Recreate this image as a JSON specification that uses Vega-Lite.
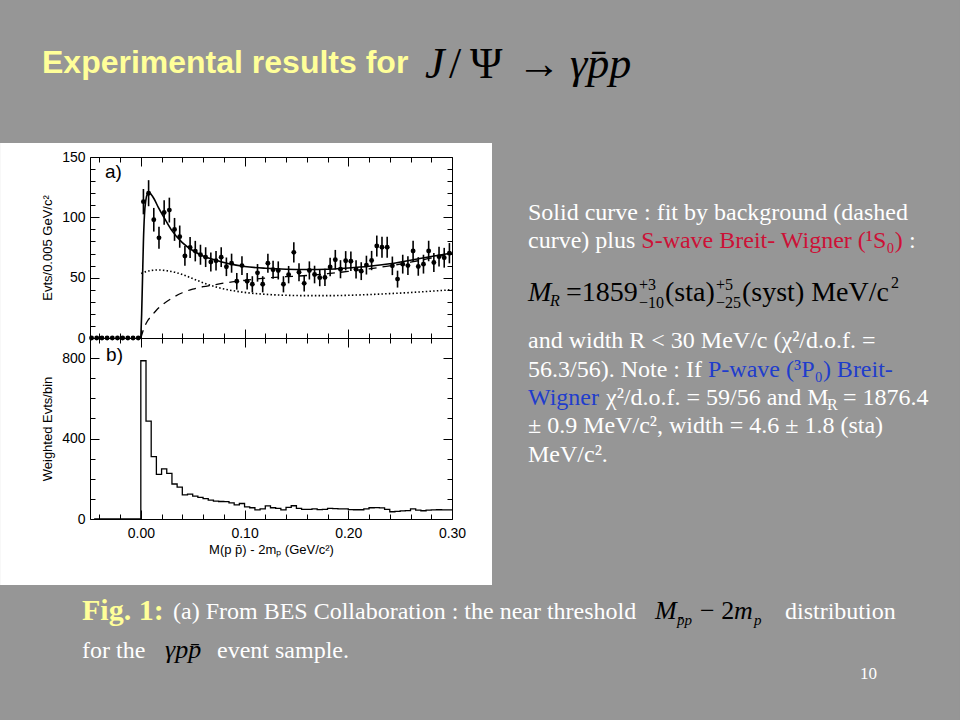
{
  "$schema": "https://vega.github.io/schema/vega-lite/v6.json",
  "background": "#969696",
  "padding": 0,
  "bounds": "flush",
  "spacing": 0,
  "config": {
    "view": {"stroke": null},
    "font": "Liberation Sans",
    "text": {"align": "left", "baseline": "alphabetic", "font": "Liberation Serif"},
    "axis": {"grid": false, "domainColor": "black", "tickColor": "black", "labelColor": "black", "titleColor": "black", "labelFont": "Liberation Sans", "titleFont": "Liberation Sans", "labelFontSize": 14, "titleFontSize": 13, "titleFontWeight": "normal", "domainWidth": 1, "tickWidth": 1}
  },
  "datasets": {
    "points": [
      {"m": -0.0475, "n": 0, "e": 0}, {"m": -0.0425, "n": 0, "e": 0}, {"m": -0.0375, "n": 0, "e": 0}, {"m": -0.0325, "n": 0, "e": 0}, {"m": -0.0275, "n": 0, "e": 0},
      {"m": -0.0225, "n": 0, "e": 0}, {"m": -0.0175, "n": 0, "e": 0}, {"m": -0.0125, "n": 0, "e": 0}, {"m": -0.0075, "n": 0, "e": 0}, {"m": -0.0025, "n": 0, "e": 0},
      {"m": 0.0025, "n": 113, "e": 10.5}, {"m": 0.0075, "n": 120, "e": 10.8}, {"m": 0.0125, "n": 98, "e": 9.8}, {"m": 0.0175, "n": 83, "e": 9.1}, {"m": 0.0225, "n": 104, "e": 10.2},
      {"m": 0.0275, "n": 106, "e": 10.3}, {"m": 0.0325, "n": 90, "e": 9.5}, {"m": 0.0375, "n": 84, "e": 9.2}, {"m": 0.0425, "n": 68, "e": 8.2}, {"m": 0.0475, "n": 75, "e": 8.7},
      {"m": 0.0525, "n": 72, "e": 8.5}, {"m": 0.0575, "n": 69, "e": 8.3}, {"m": 0.0625, "n": 67, "e": 8.2}, {"m": 0.0675, "n": 63, "e": 7.9}, {"m": 0.0725, "n": 64, "e": 8.0},
      {"m": 0.0775, "n": 67, "e": 8.2}, {"m": 0.0825, "n": 59, "e": 7.7}, {"m": 0.0875, "n": 62, "e": 7.9}, {"m": 0.0925, "n": 47, "e": 6.9}, {"m": 0.0975, "n": 60, "e": 7.7},
      {"m": 0.1025, "n": 47, "e": 6.9}, {"m": 0.1075, "n": 44.5, "e": 6.7}, {"m": 0.1125, "n": 54, "e": 7.3}, {"m": 0.1175, "n": 44.5, "e": 6.7}, {"m": 0.1225, "n": 62, "e": 7.9},
      {"m": 0.1275, "n": 56.5, "e": 7.5}, {"m": 0.1325, "n": 56, "e": 7.5}, {"m": 0.1375, "n": 44.5, "e": 6.7}, {"m": 0.1425, "n": 52.5, "e": 7.2}, {"m": 0.1475, "n": 71, "e": 8.4},
      {"m": 0.1525, "n": 54.5, "e": 7.4}, {"m": 0.1575, "n": 45.3, "e": 6.7}, {"m": 0.1625, "n": 56, "e": 7.5}, {"m": 0.1675, "n": 52.6, "e": 7.3}, {"m": 0.1725, "n": 50, "e": 7.1},
      {"m": 0.1775, "n": 50.2, "e": 7.1}, {"m": 0.1825, "n": 58.8, "e": 7.7}, {"m": 0.1875, "n": 64.9, "e": 8.1}, {"m": 0.1925, "n": 57, "e": 7.5}, {"m": 0.1975, "n": 64, "e": 8.0},
      {"m": 0.2025, "n": 63.6, "e": 8.0}, {"m": 0.2075, "n": 56.9, "e": 7.5}, {"m": 0.2125, "n": 55.4, "e": 7.4}, {"m": 0.2175, "n": 60.4, "e": 7.8}, {"m": 0.2225, "n": 64.2, "e": 8.0},
      {"m": 0.2275, "n": 76.2, "e": 8.7}, {"m": 0.2325, "n": 75.2, "e": 8.7}, {"m": 0.2375, "n": 75.2, "e": 8.7}, {"m": 0.2425, "n": 59.8, "e": 7.7}, {"m": 0.2475, "n": 48.8, "e": 7.0},
      {"m": 0.2525, "n": 61.2, "e": 7.8}, {"m": 0.2575, "n": 60, "e": 7.7}, {"m": 0.2625, "n": 72.1, "e": 8.5}, {"m": 0.2675, "n": 59.3, "e": 7.7}, {"m": 0.2725, "n": 61.2, "e": 7.8},
      {"m": 0.2775, "n": 72.1, "e": 8.5}, {"m": 0.2825, "n": 62.6, "e": 7.9}, {"m": 0.2875, "n": 67.4, "e": 8.2}, {"m": 0.2925, "n": 66.5, "e": 8.2}, {"m": 0.2975, "n": 70.3, "e": 8.4}
    ],
    "fit": [
      {"m": 0, "v": 0}, {"m": 0.0008, "v": 20}, {"m": 0.0016, "v": 48}, {"m": 0.0025, "v": 80}, {"m": 0.0035, "v": 102}, {"m": 0.0048, "v": 114},
      {"m": 0.0065, "v": 119.5}, {"m": 0.008, "v": 120.5}, {"m": 0.01, "v": 119}, {"m": 0.013, "v": 115}, {"m": 0.017, "v": 108}, {"m": 0.023, "v": 99},
      {"m": 0.03, "v": 89}, {"m": 0.04, "v": 79}, {"m": 0.05, "v": 72.5}, {"m": 0.06, "v": 68}, {"m": 0.07, "v": 65}, {"m": 0.085, "v": 61.5},
      {"m": 0.1, "v": 59.3}, {"m": 0.12, "v": 57.8}, {"m": 0.14, "v": 57}, {"m": 0.16, "v": 56.8}, {"m": 0.18, "v": 57}, {"m": 0.2, "v": 58},
      {"m": 0.22, "v": 59.4}, {"m": 0.24, "v": 61.5}, {"m": 0.26, "v": 64.5}, {"m": 0.28, "v": 67.5}, {"m": 0.3, "v": 70.5}
    ],
    "background": [
      {"m": 0, "v": 0}, {"m": 0.003, "v": 8}, {"m": 0.006, "v": 13.5}, {"m": 0.01, "v": 18}, {"m": 0.015, "v": 23}, {"m": 0.02, "v": 27},
      {"m": 0.03, "v": 33}, {"m": 0.04, "v": 37.5}, {"m": 0.05, "v": 40.5}, {"m": 0.06, "v": 42.5}, {"m": 0.07, "v": 44}, {"m": 0.08, "v": 45.5},
      {"m": 0.09, "v": 46.7}, {"m": 0.1, "v": 47.8}, {"m": 0.12, "v": 49.6}, {"m": 0.14, "v": 50.8}, {"m": 0.16, "v": 51.8}, {"m": 0.18, "v": 53.3},
      {"m": 0.2, "v": 55.2}, {"m": 0.22, "v": 57.3}, {"m": 0.24, "v": 59.8}, {"m": 0.26, "v": 62.8}, {"m": 0.28, "v": 66.3}, {"m": 0.3, "v": 70}
    ],
    "dotted": [
      {"m": 0.0003, "v": 53.5}, {"m": 0.005, "v": 55}, {"m": 0.01, "v": 56}, {"m": 0.017, "v": 56.4}, {"m": 0.025, "v": 55.8}, {"m": 0.035, "v": 54},
      {"m": 0.045, "v": 51}, {"m": 0.055, "v": 47.5}, {"m": 0.065, "v": 44.3}, {"m": 0.075, "v": 41.7}, {"m": 0.085, "v": 39.8}, {"m": 0.1, "v": 37.8},
      {"m": 0.12, "v": 36.2}, {"m": 0.14, "v": 35.4}, {"m": 0.16, "v": 35.1}, {"m": 0.18, "v": 35.1}, {"m": 0.2, "v": 35.4}, {"m": 0.22, "v": 36},
      {"m": 0.24, "v": 36.8}, {"m": 0.26, "v": 37.7}, {"m": 0.28, "v": 38.8}, {"m": 0.3, "v": 40}
    ],
    "hist": [
      {"m": -0.045, "w": 0}, {"m": -0.04, "w": 0}, {"m": -0.035, "w": 0}, {"m": -0.03, "w": 0}, {"m": -0.025, "w": 0}, {"m": -0.02, "w": 0}, {"m": -0.015, "w": 0}, {"m": -0.01, "w": 0}, {"m": -0.005, "w": 0},
      {"m": 0.0, "w": 787}, {"m": 0.005, "w": 487}, {"m": 0.01, "w": 310}, {"m": 0.015, "w": 222}, {"m": 0.02, "w": 249}, {"m": 0.025, "w": 227},
      {"m": 0.03, "w": 174}, {"m": 0.035, "w": 158}, {"m": 0.04, "w": 120}, {"m": 0.045, "w": 124}, {"m": 0.05, "w": 114}, {"m": 0.055, "w": 108},
      {"m": 0.06, "w": 101}, {"m": 0.065, "w": 94}, {"m": 0.07, "w": 89}, {"m": 0.075, "w": 87}, {"m": 0.08, "w": 86}, {"m": 0.085, "w": 80},
      {"m": 0.09, "w": 70}, {"m": 0.095, "w": 77}, {"m": 0.1, "w": 60}, {"m": 0.105, "w": 56}, {"m": 0.11, "w": 45}, {"m": 0.115, "w": 50},
      {"m": 0.12, "w": 65}, {"m": 0.125, "w": 56}, {"m": 0.13, "w": 53}, {"m": 0.135, "w": 45}, {"m": 0.14, "w": 58}, {"m": 0.145, "w": 66},
      {"m": 0.15, "w": 53}, {"m": 0.155, "w": 48}, {"m": 0.16, "w": 48}, {"m": 0.165, "w": 50}, {"m": 0.17, "w": 47}, {"m": 0.175, "w": 48},
      {"m": 0.18, "w": 53}, {"m": 0.185, "w": 52}, {"m": 0.19, "w": 50}, {"m": 0.195, "w": 50}, {"m": 0.2, "w": 47}, {"m": 0.205, "w": 46},
      {"m": 0.21, "w": 46}, {"m": 0.215, "w": 50}, {"m": 0.22, "w": 56}, {"m": 0.225, "w": 57}, {"m": 0.23, "w": 55}, {"m": 0.235, "w": 48},
      {"m": 0.24, "w": 36}, {"m": 0.245, "w": 38}, {"m": 0.25, "w": 40}, {"m": 0.255, "w": 42}, {"m": 0.26, "w": 50}, {"m": 0.265, "w": 44},
      {"m": 0.27, "w": 41}, {"m": 0.275, "w": 44}, {"m": 0.28, "w": 45}, {"m": 0.285, "w": 46}, {"m": 0.29, "w": 45}, {"m": 0.295, "w": 45},
      {"m": 0.3, "w": 45}
    ]
  },
  "vconcat": [
    {
      "width": 362,
      "height": 181,
      "resolve": {"axis": {"x": "independent", "y": "independent"}},
      "layer": [
        {
          "data": {"values": [{"part": "slide"}]},
          "mark": {"type": "rect", "fill": "#969696"},
          "encoding": {"x": {"datum": -0.1357, "axis": null}, "x2": {"datum": 0.7897}, "y": {"datum": 280.1, "axis": null}, "y2": {"datum": -316.5}}
        },
        {
          "data": {"values": [{"part": "figure"}]},
          "mark": {"type": "rect", "fill": "white"},
          "encoding": {"x": {"datum": -0.1357, "axis": null}, "x2": {"datum": 0.33857}, "y": {"datum": 161.6, "axis": null}, "y2": {"datum": -204.7}}
        },
        {
          "data": {"name": "dotted"},
          "mark": {"type": "line", "color": "black", "strokeWidth": 1.6, "strokeDash": [1.5, 2.2], "interpolate": "monotone"},
          "encoding": {
            "x": {"field": "m", "type": "quantitative", "axis": {"orient": "top", "values": [0, 0.1, 0.2, 0.3], "labels": false, "tickSize": -9, "domain": true, "title": null, "zindex": 1}},
            "y": {"field": "v", "type": "quantitative", "axis": {"orient": "right", "values": [0, 50, 100, 150], "labels": false, "tickSize": -9, "domain": true, "title": null, "zindex": 1}}
          }
        },
        {
          "data": {"name": "background"},
          "mark": {"type": "line", "color": "black", "strokeWidth": 1.3, "strokeDash": [8, 6], "interpolate": "monotone"},
          "encoding": {
            "x": {"field": "m", "type": "quantitative", "axis": {"orient": "top", "values": [-0.04, -0.02, 0.02, 0.04, 0.06, 0.08, 0.12, 0.14, 0.16, 0.18, 0.22, 0.24, 0.26, 0.28], "labels": false, "tickSize": -5, "domain": false, "title": null, "zindex": 1}},
            "y": {"field": "v", "type": "quantitative", "axis": {"orient": "right", "values": [10, 20, 30, 40, 60, 70, 80, 90, 110, 120, 130, 140], "labels": false, "tickSize": -5, "domain": false, "title": null, "zindex": 1}}
          }
        },
        {
          "data": {"name": "fit"},
          "mark": {"type": "line", "color": "black", "strokeWidth": 1.6, "interpolate": "monotone"},
          "encoding": {
            "x": {"field": "m", "type": "quantitative", "axis": {"orient": "bottom", "values": [-0.04, -0.02, 0.02, 0.04, 0.06, 0.08, 0.12, 0.14, 0.16, 0.18, 0.22, 0.24, 0.26, 0.28], "labels": false, "tickSize": -5, "domain": false, "title": null, "zindex": 1}},
            "y": {"field": "v", "type": "quantitative", "axis": {"orient": "left", "values": [10, 20, 30, 40, 60, 70, 80, 90, 110, 120, 130, 140], "labels": false, "tickSize": -5, "domain": false, "title": null, "zindex": 1}}
          }
        },
        {
          "data": {"name": "points"},
          "mark": {"type": "errorbar", "color": "black", "thickness": 1.6},
          "encoding": {
            "x": {"field": "m", "type": "quantitative", "axis": null},
            "y": {"field": "n", "type": "quantitative", "axis": null},
            "yError": {"field": "e"}
          }
        },
        {
          "data": {"name": "points"},
          "mark": {"type": "circle", "color": "black", "size": 24, "opacity": 1},
          "encoding": {
            "x": {"field": "m", "type": "quantitative", "scale": {"domain": [-0.049, 0.3], "nice": false, "zero": false}, "axis": {"orient": "bottom", "values": [0, 0.1, 0.2, 0.3], "labels": false, "tickSize": -9, "domain": true, "title": null, "zindex": 1}},
            "y": {"field": "n", "type": "quantitative", "scale": {"domain": [0, 150], "nice": false}, "axis": {"orient": "left", "values": [0, 50, 100, 150], "format": "d", "tickSize": -9, "labelPadding": 14, "domain": true, "title": "Evts/0.005 GeV/c²", "titlePadding": 7, "zindex": 1}}
          }
        },
        {"data": {"values": [{"t": "a)"}]}, "mark": {"type": "text", "font": "Liberation Sans", "fontSize": 19, "fill": "black"}, "encoding": {"text": {"field": "t"}, "x": {"datum": -0.0345, "axis": null}, "y": {"datum": 132.6, "axis": null}}},
        {"data": {"values": [{"t": "Experimental results for"}]}, "mark": {"type": "text", "font": "Liberation Sans", "fontSize": 32, "fontWeight": "bold", "fill": "#ffff99"}, "encoding": {"text": {"field": "t"}, "x": {"datum": -0.09528, "axis": null}, "y": {"datum": 219.61, "axis": null}}},
        {"data": {"values": [{"t": "J"}]}, "mark": {"type": "text", "fontSize": 44, "fontStyle": "italic", "fill": "black"}, "encoding": {"text": {"field": "t"}, "x": {"datum": 0.27397, "axis": null}, "y": {"datum": 215.47, "axis": null}}},
        {"data": {"values": [{"t": "/"}]}, "mark": {"type": "text", "fontSize": 44, "fill": "black"}, "encoding": {"text": {"field": "t"}, "x": {"datum": 0.29711, "axis": null}, "y": {"datum": 215.47, "axis": null}}},
        {"data": {"values": [{"t": "Ψ"}]}, "mark": {"type": "text", "fontSize": 44, "fill": "black"}, "encoding": {"text": {"field": "t"}, "x": {"datum": 0.31735, "axis": null}, "y": {"datum": 215.47, "axis": null}}},
        {"data": {"values": [{"t": "→"}]}, "mark": {"type": "text", "fontSize": 44, "fill": "black"}, "encoding": {"text": {"field": "t"}, "x": {"datum": 0.36266, "axis": null}, "y": {"datum": 215.47, "axis": null}}},
        {"data": {"values": [{"t": "γp̄p"}]}, "mark": {"type": "text", "fontSize": 44, "fontStyle": "italic", "fill": "black"}, "encoding": {"text": {"field": "t"}, "x": {"datum": 0.41376, "axis": null}, "y": {"datum": 215.47, "axis": null}}},
        {"data": {"values": [{"t": "Solid curve : fit by background (dashed"}]}, "mark": {"type": "text", "fontSize": 24, "fill": "white"}, "encoding": {"text": {"field": "t"}, "x": {"datum": 0.37327, "axis": null}, "y": {"datum": 97.79, "axis": null}}},
        {"data": {"values": [{"t": "curve) plus"}]}, "mark": {"type": "text", "fontSize": 24, "fill": "white"}, "encoding": {"text": {"field": "t"}, "x": {"datum": 0.37327, "axis": null}, "y": {"datum": 74.59, "axis": null}}},
        {"data": {"values": [{"t": "S-wave Breit- Wigner (¹S₀)"}]}, "mark": {"type": "text", "fontSize": 24, "fill": "#cc1136"}, "encoding": {"text": {"field": "t"}, "x": {"datum": 0.4825, "axis": null}, "y": {"datum": 74.59, "axis": null}}},
        {"data": {"values": [{"t": ":"}]}, "mark": {"type": "text", "fontSize": 24, "fill": "white"}, "encoding": {"text": {"field": "t"}, "x": {"datum": 0.74059, "axis": null}, "y": {"datum": 74.59, "axis": null}}},
        {"data": {"values": [{"t": "M"}]}, "mark": {"type": "text", "fontSize": 28, "fontStyle": "italic", "fill": "black"}, "encoding": {"text": {"field": "t"}, "x": {"datum": 0.37327, "axis": null}, "y": {"datum": 30.66, "axis": null}}},
        {"data": {"values": [{"t": "R"}]}, "mark": {"type": "text", "fontSize": 16, "fontStyle": "italic", "fill": "black"}, "encoding": {"text": {"field": "t"}, "x": {"datum": 0.39448, "axis": null}, "y": {"datum": 26.52, "axis": null}}},
        {"data": {"values": [{"t": "=1859"}]}, "mark": {"type": "text", "fontSize": 28, "fill": "black"}, "encoding": {"text": {"field": "t"}, "x": {"datum": 0.40991, "axis": null}, "y": {"datum": 30.66, "axis": null}}},
        {"data": {"values": [{"t": "+3"}]}, "mark": {"type": "text", "fontSize": 16, "fill": "black"}, "encoding": {"text": {"field": "t"}, "x": {"datum": 0.48028, "axis": null}, "y": {"datum": 39.78, "axis": null}}},
        {"data": {"values": [{"t": "−10"}]}, "mark": {"type": "text", "fontSize": 16, "fill": "black"}, "encoding": {"text": {"field": "t"}, "x": {"datum": 0.48028, "axis": null}, "y": {"datum": 24.86, "axis": null}}},
        {"data": {"values": [{"t": "(sta)"}]}, "mark": {"type": "text", "fontSize": 28, "fill": "black"}, "encoding": {"text": {"field": "t"}, "x": {"datum": 0.50535, "axis": null}, "y": {"datum": 30.66, "axis": null}}},
        {"data": {"values": [{"t": "+5"}]}, "mark": {"type": "text", "fontSize": 16, "fill": "black"}, "encoding": {"text": {"field": "t"}, "x": {"datum": 0.55452, "axis": null}, "y": {"datum": 39.78, "axis": null}}},
        {"data": {"values": [{"t": "−25"}]}, "mark": {"type": "text", "fontSize": 16, "fill": "black"}, "encoding": {"text": {"field": "t"}, "x": {"datum": 0.55452, "axis": null}, "y": {"datum": 24.86, "axis": null}}},
        {"data": {"values": [{"t": "(syst) MeV/c"}]}, "mark": {"type": "text", "fontSize": 28, "fill": "black"}, "encoding": {"text": {"field": "t"}, "x": {"datum": 0.57959, "axis": null}, "y": {"datum": 30.66, "axis": null}}},
        {"data": {"values": [{"t": "2"}]}, "mark": {"type": "text", "fontSize": 16, "fill": "black"}, "encoding": {"text": {"field": "t"}, "x": {"datum": 0.72323, "axis": null}, "y": {"datum": 41.44, "axis": null}}},
        {"data": {"values": [{"t": "and width R < 30 MeV/c (χ²/d.o.f. ="}]}, "mark": {"type": "text", "fontSize": 24, "fill": "white"}, "encoding": {"text": {"field": "t"}, "x": {"datum": 0.37327, "axis": null}, "y": {"datum": -8.29, "axis": null}}},
        {"data": {"values": [{"t": "56.3/56). Note : If"}]}, "mark": {"type": "text", "fontSize": 24, "fill": "white"}, "encoding": {"text": {"field": "t"}, "x": {"datum": 0.37327, "axis": null}, "y": {"datum": -32.32, "axis": null}}},
        {"data": {"values": [{"t": "P-wave (³P₀) Breit-"}]}, "mark": {"type": "text", "fontSize": 24, "fill": "#1f3dcc"}, "encoding": {"text": {"field": "t"}, "x": {"datum": 0.54681, "axis": null}, "y": {"datum": -32.32, "axis": null}}},
        {"data": {"values": [{"t": "Wigner"}]}, "mark": {"type": "text", "fontSize": 24, "fill": "#1f3dcc"}, "encoding": {"text": {"field": "t"}, "x": {"datum": 0.37327, "axis": null}, "y": {"datum": -55.52, "axis": null}}},
        {"data": {"values": [{"t": "χ²/d.o.f. = 59/56 and M"}]}, "mark": {"type": "text", "fontSize": 24, "fill": "white"}, "encoding": {"text": {"field": "t"}, "x": {"datum": 0.44847, "axis": null}, "y": {"datum": -55.52, "axis": null}}},
        {"data": {"values": [{"t": "R"}]}, "mark": {"type": "text", "fontSize": 16, "fill": "white"}, "encoding": {"text": {"field": "t"}, "x": {"datum": 0.66153, "axis": null}, "y": {"datum": -59.67, "axis": null}}},
        {"data": {"values": [{"t": "= 1876.4"}]}, "mark": {"type": "text", "fontSize": 24, "fill": "white"}, "encoding": {"text": {"field": "t"}, "x": {"datum": 0.67696, "axis": null}, "y": {"datum": -55.52, "axis": null}}},
        {"data": {"values": [{"t": "± 0.9 MeV/c², width = 4.6 ± 1.8 (sta)"}]}, "mark": {"type": "text", "fontSize": 24, "fill": "white"}, "encoding": {"text": {"field": "t"}, "x": {"datum": 0.37327, "axis": null}, "y": {"datum": -78.73, "axis": null}}},
        {"data": {"values": [{"t": "MeV/c²."}]}, "mark": {"type": "text", "fontSize": 24, "fill": "white"}, "encoding": {"text": {"field": "t"}, "x": {"datum": 0.37327, "axis": null}, "y": {"datum": -102.76, "axis": null}}},
        {"data": {"values": [{"t": "Fig. 1:"}]}, "mark": {"type": "text", "fontSize": 30, "fontWeight": "bold", "fill": "#ffff99"}, "encoding": {"text": {"field": "t"}, "x": {"datum": -0.05671, "axis": null}, "y": {"datum": -233.7, "axis": null}}},
        {"data": {"values": [{"t": "(a) From BES Collaboration : the near threshold"}]}, "mark": {"type": "text", "fontSize": 24, "fill": "white"}, "encoding": {"text": {"field": "t"}, "x": {"datum": 0.03102, "axis": null}, "y": {"datum": -232.87, "axis": null}}},
        {"data": {"values": [{"t": "M"}]}, "mark": {"type": "text", "fontSize": 26, "fontStyle": "italic", "fill": "black"}, "encoding": {"text": {"field": "t"}, "x": {"datum": 0.49571, "axis": null}, "y": {"datum": -232.87, "axis": null}}},
        {"data": {"values": [{"t": "p̄p"}]}, "mark": {"type": "text", "fontSize": 15, "fontStyle": "italic", "fill": "black"}, "encoding": {"text": {"field": "t"}, "x": {"datum": 0.51692, "axis": null}, "y": {"datum": -237.85, "axis": null}}},
        {"data": {"values": [{"t": "− 2"}]}, "mark": {"type": "text", "fontSize": 26, "fill": "black"}, "encoding": {"text": {"field": "t"}, "x": {"datum": 0.53909, "axis": null}, "y": {"datum": -232.87, "axis": null}}},
        {"data": {"values": [{"t": "m"}]}, "mark": {"type": "text", "fontSize": 26, "fontStyle": "italic", "fill": "black"}, "encoding": {"text": {"field": "t"}, "x": {"datum": 0.57187, "axis": null}, "y": {"datum": -232.87, "axis": null}}},
        {"data": {"values": [{"t": "p"}]}, "mark": {"type": "text", "fontSize": 15, "fontStyle": "italic", "fill": "black"}, "encoding": {"text": {"field": "t"}, "x": {"datum": 0.59115, "axis": null}, "y": {"datum": -237.85, "axis": null}}},
        {"data": {"values": [{"t": "distribution"}]}, "mark": {"type": "text", "fontSize": 24, "fill": "white"}, "encoding": {"text": {"field": "t"}, "x": {"datum": 0.62104, "axis": null}, "y": {"datum": -232.87, "axis": null}}},
        {"data": {"values": [{"t": "for the"}]}, "mark": {"type": "text", "fontSize": 24, "fill": "white"}, "encoding": {"text": {"field": "t"}, "x": {"datum": -0.05671, "axis": null}, "y": {"datum": -265.19, "axis": null}}},
        {"data": {"values": [{"t": "γpp̄"}]}, "mark": {"type": "text", "fontSize": 26, "fontStyle": "italic", "fill": "black"}, "encoding": {"text": {"field": "t"}, "x": {"datum": 0.02331, "axis": null}, "y": {"datum": -265.19, "axis": null}}},
        {"data": {"values": [{"t": "event sample."}]}, "mark": {"type": "text", "fontSize": 24, "fill": "white"}, "encoding": {"text": {"field": "t"}, "x": {"datum": 0.07344, "axis": null}, "y": {"datum": -265.19, "axis": null}}},
        {"data": {"values": [{"t": "10"}]}, "mark": {"type": "text", "fontSize": 17, "fill": "white"}, "encoding": {"text": {"field": "t"}, "x": {"datum": 0.69335, "axis": null}, "y": {"datum": -282.6, "axis": null}}}
      ]
    },
    {
      "width": 362,
      "height": 181,
      "resolve": {"axis": {"x": "independent", "y": "independent"}},
      "layer": [
        {
          "data": {"name": "hist"},
          "mark": {"type": "line", "color": "black", "strokeWidth": 1.3, "interpolate": "step-after"},
          "encoding": {
            "x": {"field": "m", "type": "quantitative", "scale": {"domain": [-0.049, 0.3], "nice": false, "zero": false}, "axis": {"orient": "bottom", "values": [0, 0.1, 0.2, 0.3], "format": ".2f", "tickSize": -9, "labelPadding": 16, "labelFlush": false, "domain": true, "title": "M(p p̄) - 2mₚ (GeV/c²)", "titlePadding": 3, "zindex": 1}},
            "y": {"field": "w", "type": "quantitative", "scale": {"domain": [0, 900], "nice": false}, "axis": {"orient": "left", "values": [0, 400, 800], "format": "d", "tickSize": -9, "labelPadding": 14, "domain": true, "title": "Weighted Evts/bin", "titlePadding": 7, "zindex": 1}}
          }
        },
        {
          "data": {"name": "hist"},
          "mark": {"type": "line", "strokeOpacity": 0},
          "encoding": {
            "x": {"field": "m", "type": "quantitative", "axis": {"orient": "bottom", "values": [-0.04, -0.02, 0.02, 0.04, 0.06, 0.08, 0.12, 0.14, 0.16, 0.18, 0.22, 0.24, 0.26, 0.28], "labels": false, "tickSize": -5, "domain": false, "title": null, "zindex": 1}},
            "y": {"field": "w", "type": "quantitative", "axis": {"orient": "left", "values": [100, 200, 300, 500, 600, 700], "labels": false, "tickSize": -5, "domain": false, "title": null, "zindex": 1}}
          }
        },
        {
          "data": {"name": "hist"},
          "mark": {"type": "line", "strokeOpacity": 0},
          "encoding": {
            "x": {"field": "m", "type": "quantitative", "axis": {"orient": "top", "values": [0, 0.1, 0.2, 0.3], "labels": false, "tickSize": -9, "domain": true, "title": null, "zindex": 1}},
            "y": {"field": "w", "type": "quantitative", "axis": {"orient": "right", "values": [0, 400, 800], "labels": false, "tickSize": -9, "domain": true, "title": null, "zindex": 1}}
          }
        },
        {
          "data": {"name": "hist"},
          "mark": {"type": "line", "strokeOpacity": 0},
          "encoding": {
            "x": {"field": "m", "type": "quantitative", "axis": {"orient": "top", "values": [-0.04, -0.02, 0.02, 0.04, 0.06, 0.08, 0.12, 0.14, 0.16, 0.18, 0.22, 0.24, 0.26, 0.28], "labels": false, "tickSize": -5, "domain": false, "title": null, "zindex": 1}},
            "y": {"field": "w", "type": "quantitative", "axis": {"orient": "right", "values": [100, 200, 300, 500, 600, 700], "labels": false, "tickSize": -5, "domain": false, "title": null, "zindex": 1}}
          }
        },
        {"data": {"values": [{"t": "b)"}]}, "mark": {"type": "text", "font": "Liberation Sans", "fontSize": 19, "fill": "black"}, "encoding": {"text": {"field": "t"}, "x": {"datum": -0.0335, "axis": null}, "y": {"datum": 785.6, "axis": null}}}
      ]
    }
  ]
}
